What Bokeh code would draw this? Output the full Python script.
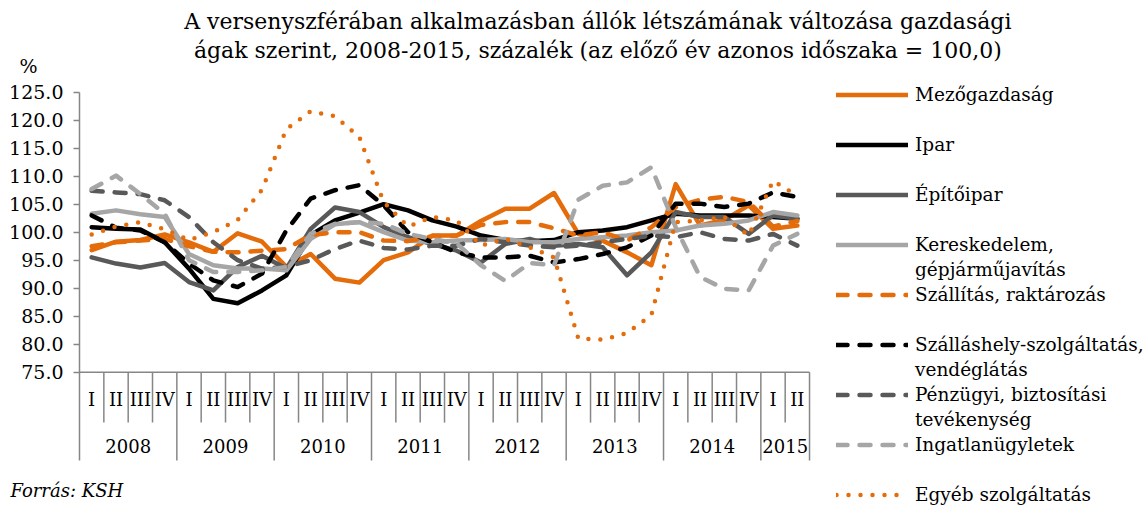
from bokeh.plotting import figure
from bokeh.models import (Range1d, FixedTicker, NumeralTickFormatter, Legend, LegendItem,
                          ColumnDataSource)
from bokeh.core.properties import value
from bokeh.embed import file_html
from bokeh.resources import INLINE

# ---------------- data ----------------
years = ["2008", "2009", "2010", "2011", "2012", "2013", "2014", "2015"]
quarters_per_year = [4, 4, 4, 4, 4, 4, 4, 2]
quarter_names = ["I", "II", "III", "IV"]
period_year = [y for y, n in zip(years, quarters_per_year) for _ in range(n)]
period_quarter = [quarter_names[k] for n in quarters_per_year for k in range(n)]

mezogazdasag = [96.8, 98.3, 98.6, 99.6, 98.2, 96.5, 99.8, 98.3, 93.8, 96.1,
                91.7, 91.0, 95.0, 96.4, 99.4, 99.4, 102.0, 104.2, 104.2, 107.0,
                99.7, 98.5, 96.4, 94.1, 108.6, 101.2, 102.2, 104.8, 100.6, 101.2]
ipar = [100.9, 100.6, 100.5, 98.2, 93.5, 88.1, 87.3, 89.6, 92.3, 99.5,
        102.1, 103.5, 105.0, 103.9, 102.1, 101.0, 99.4, 98.6, 98.4, 98.6,
        100.0, 100.3, 100.9, 102.1, 103.3, 103.0, 103.0, 103.0, 102.7, 102.4]
epitoipar = [95.5, 94.4, 93.7, 94.5, 91.1, 89.6, 93.8, 95.8, 93.5, 100.6,
             104.4, 103.6, 100.9, 99.1, 97.9, 96.7, 94.6, 97.9, 98.8, 97.6,
             97.9, 97.3, 92.3, 96.4, 103.6, 102.7, 102.7, 99.7, 103.0, 102.4]
kereskedelem = [103.3, 103.9, 103.2, 102.7, 96.1, 94.1, 93.5, 93.5, 93.2, 98.8,
                101.4, 101.8, 100.0, 98.5, 98.2, 98.5, 98.6, 98.8, 98.2, 98.2,
                98.8, 99.1, 99.4, 100.0, 100.3, 101.2, 101.5, 102.1, 103.6, 103.0]
szallitas = [97.5, 98.2, 98.5, 98.8, 97.5, 96.5, 96.4, 96.7, 97.0, 99.5,
             100.0, 100.0, 98.5, 98.4, 99.3, 99.4, 101.3, 101.8, 101.8, 100.7,
             99.4, 100.0, 98.5, 100.9, 104.5, 105.8, 106.3, 105.4, 101.0, 102.0]
szallashely = [103.0, 100.8, 100.3, 98.2, 94.4, 91.4, 90.2, 92.6, 100.3, 106.0,
               107.5, 108.4, 104.8, 100.0, 98.2, 96.4, 95.5, 95.5, 95.8, 94.6,
               95.2, 96.1, 97.3, 99.4, 105.1, 105.1, 104.5, 105.1, 107.1, 106.3]
penzugyi = [107.4, 107.1, 106.8, 105.7, 102.7, 98.2, 95.0, 93.5, 93.8, 95.0,
            97.0, 98.5, 97.2, 96.9, 97.6, 97.6, 98.8, 98.2, 97.6, 97.3,
            97.6, 98.2, 98.8, 99.4, 99.1, 100.0, 98.8, 98.5, 99.7, 97.6]
ingatlan = [107.7, 110.1, 106.8, 103.3, 95.0, 92.9, 92.9, 93.2, 93.8, 99.7,
            101.5, 101.8, 101.5, 99.7, 98.8, 98.0, 94.1, 91.3, 94.5, 94.1,
            105.8, 108.3, 108.9, 111.6, 100.9, 92.0, 89.9, 89.6, 97.6, 99.7]
egyeb = [99.6, 101.0, 101.8, 100.5, 98.6, 100.0, 102.2, 107.6, 118.4, 121.6,
         120.7, 117.0, 105.4, 101.0, 102.7, 102.1, 97.6, 98.8, 97.3, 95.5,
         81.0, 80.8, 82.0, 85.2, 101.8, 102.1, 102.7, 99.4, 109.2, 106.5]

series_labels = [["Mezőgazdaság"], ["Ipar"], ["Építőipar"],
                 ["Kereskedelem,", "gépjárműjavítás"], ["Szállítás, raktározás"],
                 ["Szálláshely-szolgáltatás,", "vendéglátás"],
                 ["Pénzügyi, biztosítási", "tevékenység"], ["Ingatlanügyletek"],
                 ["Egyéb szolgáltatás"]]
series_values = [mezogazdasag, ipar, epitoipar, kereskedelem, szallitas,
                 szallashely, penzugyi, ingatlan, egyeb]

title_lines = ["A versenyszférában alkalmazásban állók létszámának változása gazdasági",
               "ágak szerint, 2008-2015, százalék (az előző év azonos időszaka = 100,0)"]
unit_label = "%"
source_note = "Forrás: KSH"
y_ticks = [75, 80, 85, 90, 95, 100, 105, 110, 115, 120, 125]

# ---------------- styles / layout ----------------
FONT = "DejaVu Serif"
ORANGE = "#E46C0A"
BLACK = "#000000"
DGRAY = "#595959"
LGRAY = "#A6A6A6"
AXIS = "#868686"
styles = [(ORANGE, "solid"), (BLACK, "solid"), (DGRAY, "solid"), (LGRAY, "solid"),
          (ORANGE, "11 12"), (BLACK, "11 12"), (DGRAY, "11 12"), (LGRAY, "11 12"),
          (ORANGE, "0 12")]
legend_slots = [0, 2, 4, 6, 8, 10, 12, 14, 16]
N_SLOTS = 17

n = len(period_year)
idx = list(range(n))
X_LEFT, X_RIGHT = -3.747, 43.43       # whole canvas is the plotting frame
Y_LOW, Y_HIGH = 49.59, 141.375
AXIS_BOTTOM = 59.23                   # lower end of the category table
Q_ROW_BOTTOM = 66.0
Q_LABEL_Y, YEAR_LABEL_Y = 70.2, 61.9

p = figure(width=1148, height=514, output_backend="svg", toolbar_location=None,
           title=None, x_range=Range1d(X_LEFT, X_RIGHT), y_range=Range1d(Y_LOW, Y_HIGH),
           min_border=0)
p.outline_line_color = None
p.xgrid.visible = False
p.ygrid.visible = False
p.xaxis.visible = False
p.background_fill_color = "white"
p.border_fill_color = "white"

ya = p.yaxis[0]
ya.fixed_location = -0.5
ya.bounds = (AXIS_BOTTOM, y_ticks[-1])
ya.ticker = FixedTicker(ticks=y_ticks)
ya.formatter = NumeralTickFormatter(format="0.0")
ya.major_label_text_font = FONT
ya.major_label_text_font_size = "19px"
ya.major_label_text_color = "black"
ya.major_label_standoff = 10
ya.major_tick_in = 0
ya.major_tick_out = 6
ya.minor_tick_line_color = None
ya.axis_line_color = AXIS
ya.axis_line_width = 1.5
ya.major_tick_line_color = AXIS
ya.major_tick_line_width = 1.5

# category axis: baseline, separators, labels
p.segment(x0=[-0.5], y0=[y_ticks[0]], x1=[n - 0.5], y1=[y_ticks[0]],
          line_color=AXIS, line_width=1.5)
sep_x, sep_bottom = [], []
for k in range(1, n + 1):
    sep_x.append(k - 0.5)
    if k == n or period_year[k] != period_year[k - 1]:
        sep_bottom.append(AXIS_BOTTOM)
    else:
        sep_bottom.append(Q_ROW_BOTTOM)
p.segment(x0=sep_x, y0=[y_ticks[0]] * n, x1=sep_x, y1=sep_bottom,
          line_color=AXIS, line_width=1.5)

qsrc = ColumnDataSource(dict(x=idx, y=[Q_LABEL_Y] * n, t=period_quarter))
p.text(x="x", y="y", text="t", source=qsrc, text_font=value(FONT),
       text_font_size="18px", text_align="center", text_baseline="middle",
       text_color="black")
year_x = [sum(i for i in idx if period_year[i] == yv) / period_year.count(yv) for yv in years]
ysrc = ColumnDataSource(dict(x=year_x, y=[YEAR_LABEL_Y] * len(years), t=years))
p.text(x="x", y="y", text="t", source=ysrc, text_font=value(FONT),
       text_font_size="18px", text_align="center", text_baseline="middle",
       text_color="black")

# series lines
renderers = []
for vals, (col, dash) in zip(series_values, styles):
    r = p.line(x=idx, y=vals, line_color=col, line_width=4.5, line_dash=dash,
               line_join="round", line_cap="round")
    renderers.append(r)

# legend (slot based, to mimic the spacing of the original legend)
blank = p.line(x=[], y=[], line_alpha=0)
slot_items = [LegendItem(label=" ", renderers=[blank]) for _ in range(N_SLOTS)]
for s, labels, r in zip(legend_slots, series_labels, renderers):
    slot_items[s] = LegendItem(label=labels[0], renderers=[r])
    for j, extra in enumerate(labels[1:], start=1):
        slot_items[s + j] = LegendItem(label=extra, renderers=[blank])
legend = Legend(items=slot_items, location=(836, 7), glyph_width=72, glyph_height=25,
                label_height=25, label_width=10, spacing=0, padding=0, margin=0,
                label_standoff=7, border_line_alpha=0, background_fill_alpha=0,
                label_text_font=FONT, label_text_font_size="18.5px",
                label_text_color="black", label_text_baseline="middle")
p.add_layout(legend, "center")

# titles and notes (as text in data space)
p.text(x=[20.8, 20.8], y=[137.6, 132.45], text=title_lines, text_font=value(FONT),
       text_font_size="22px", text_align="center", text_baseline="middle",
       text_color="black")
p.text(x=[-2.6], y=[129.6], text=[unit_label], text_font=value(FONT),
       text_font_size="19px", text_align="center", text_baseline="middle",
       text_color="black")
p.text(x=[-3.34], y=[53.9], text=[source_note], text_font=value(FONT),
       text_font_size="18px", text_font_style="italic", text_align="left",
       text_baseline="middle", text_color="black")

open("out.html", "w", encoding="utf-8").write(file_html(p, INLINE))
